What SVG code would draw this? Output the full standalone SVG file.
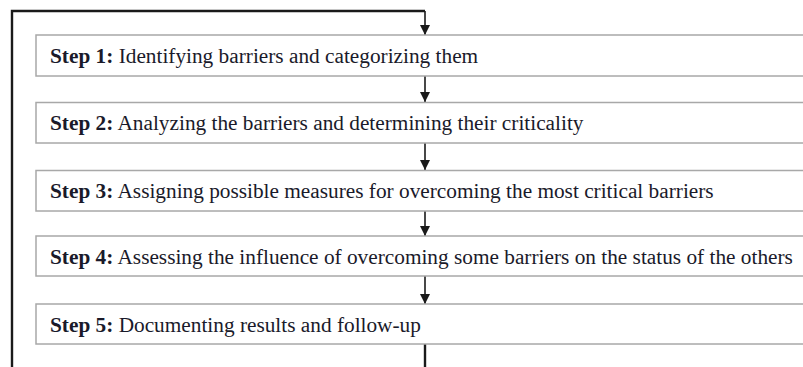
<svg xmlns="http://www.w3.org/2000/svg" width="803" height="367" viewBox="0 0 803 367">
<style>
.box{fill:#fff;stroke:#a8a8a8;stroke-width:1.5}
.lbl{font-family:"Liberation Serif","Times New Roman",serif;font-size:21.3px;fill:#1a1a2a}
.lbl .b{font-weight:bold}
.con{stroke:#1a1a1a;stroke-width:1.6;fill:none}
.loop{stroke:#1a1a1a;stroke-width:2.4;fill:none}
</style>
<defs>
<marker id="ah" markerWidth="10" markerHeight="12" refX="10" refY="5" orient="auto" markerUnits="userSpaceOnUse" viewBox="0 0 10 10">
<path d="M0,0 L10,5 L0,10 Z" fill="#1a1a1a"/>
</marker>
</defs>
<rect width="803" height="367" fill="#fff"/>
<g id="connectors">
<path class="loop" d="M12,367 L12,11 L425,11"/>
<path class="con" d="M425,11 L425,35" marker-end="url(#ah)"/>
<path class="con" d="M425,76 L425,102" marker-end="url(#ah)"/>
<path class="con" d="M425,143 L425,170" marker-end="url(#ah)"/>
<path class="con" d="M425,211 L425,236" marker-end="url(#ah)"/>
<path class="con" d="M425,276 L425,304" marker-end="url(#ah)"/>
<path class="loop" d="M425,344 L425,367"/>
</g>
<g id="step1">
<rect class="box" x="36" y="35" width="780" height="41"/>
<text class="lbl" x="50" y="63"><tspan class="b">Step 1:</tspan> Identifying barriers and categorizing them</text>
</g>
<g id="step2">
<rect class="box" x="36" y="102.5" width="780" height="40.5"/>
<text class="lbl" x="50" y="130"><tspan class="b">Step 2:</tspan> Analyzing the barriers and determining their criticality</text>
</g>
<g id="step3">
<rect class="box" x="36" y="170.5" width="780" height="40.5"/>
<text class="lbl" x="50" y="198"><tspan class="b">Step 3:</tspan> Assigning possible measures for overcoming the most critical barriers</text>
</g>
<g id="step4">
<rect class="box" x="36" y="236" width="780" height="40"/>
<text class="lbl" x="50" y="263.5"><tspan class="b">Step 4:</tspan> Assessing the influence of overcoming some barriers on the status of the others</text>
</g>
<g id="step5">
<rect class="box" x="36" y="304" width="780" height="40"/>
<text class="lbl" x="50" y="331.5"><tspan class="b">Step 5:</tspan> Documenting results and follow-up</text>
</g>
</svg>
